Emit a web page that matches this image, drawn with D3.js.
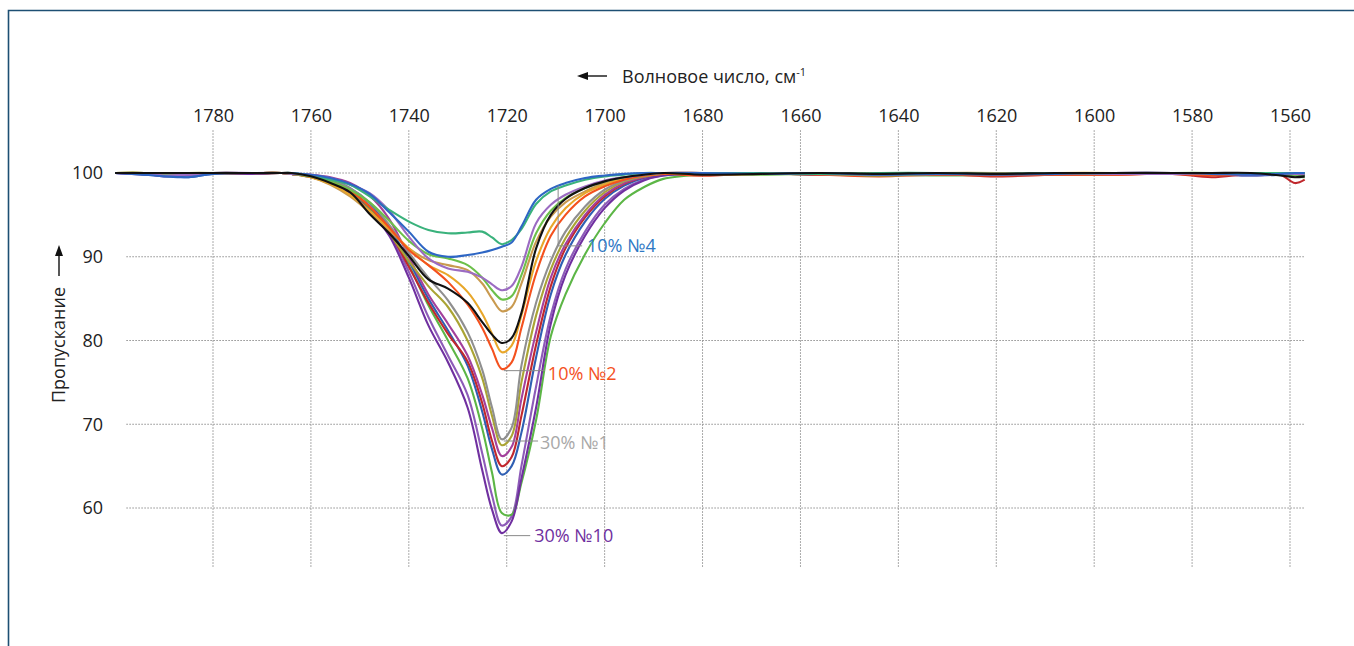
<!DOCTYPE html>
<html>
<head>
<meta charset="utf-8">
<script src="https://cdn.jsdelivr.net/npm/d3@7"></script>
<style>
  html, body { margin: 0; padding: 0; background: #fff; }
  svg { display: block; }
  text { font-family: "Open Sans", "Noto Sans", sans-serif; }
</style>
</head>
<body>
<svg id="chart" width="1354" height="646"></svg>
<script>
// ---------------- DATA ----------------
const wavenumbers = [
  1800, 1794, 1790, 1785, 1780, 1772, 1766,
  1764, 1760, 1756, 1752, 1748, 1744, 1740, 1736, 1732, 1728, 1725, 1723, 1721, 1719, 1717, 1714, 1711, 1708, 1704, 1700, 1696, 1692, 1688,
  1680, 1668, 1656, 1644, 1632, 1620, 1608, 1596, 1584, 1576, 1568, 1562, 1559, 1557
];

const xTicks = [1780, 1760, 1740, 1720, 1700, 1680, 1660, 1640, 1620, 1600, 1580, 1560];
const yTicks = [60, 70, 80, 90, 100];

// group A (30%)
const purple10 = [100, 99.9, 99.6, 99.8, 100, 99.9, 100,
  99.9, 99.5, 98.8, 97.5, 95.5, 92.5, 87.5, 81.8, 77.4, 72.0, 64.5, 59.8, 57.0, 58.4, 63.5, 72.0, 82.0, 87.8, 92.5, 95.8, 97.9, 99.1, 99.7,
  99.9, 100, 99.8, 99.9, 100, 99.8, 99.9, 100, 100, 99.9, 99.8, 99.9, 99.9, 99.8];
const purple2 = [100, 99.8, 99.7, 99.8, 99.9, 100, 100,
  99.9, 99.6, 99.0, 97.8, 95.8, 92.8, 88.2, 82.8, 78.2, 73.5, 66.5, 61.5, 57.9, 59.0, 65.0, 74.5, 83.0, 88.5, 93.0, 96.2, 98.1, 99.2, 99.7,
  99.9, 99.9, 100, 99.7, 99.9, 99.8, 100, 99.9, 100, 99.9, 99.7, 99.9, 99.8, 99.7];
const greenA = [100, 100, 99.9, 99.9, 100, 100, 100,
  99.9, 99.6, 99.0, 97.8, 95.8, 93.0, 89.0, 84.2, 80.0, 75.5, 69.5, 64.2, 59.4, 59.2, 63.0, 70.5, 80.5, 85.5, 90.3, 94.0, 96.8, 98.3, 99.3,
  99.8, 99.9, 99.9, 99.8, 99.7, 99.8, 99.8, 99.9, 99.9, 100, 99.9, 99.8, 99.6, 99.5];
const blueA = [100, 99.8, 99.7, 99.5, 99.9, 99.9, 100,
  99.9, 99.7, 99.2, 98.2, 96.4, 93.5, 89.5, 85.0, 81.2, 77.0, 71.5, 67.0, 64.0, 65.0, 69.0, 78.0, 85.5, 90.2, 94.2, 96.9, 98.5, 99.4, 99.8,
  99.9, 100, 99.8, 99.9, 99.8, 99.9, 100, 99.9, 100, 99.9, 99.7, 99.8, 99.9, 99.8];
const redA = [100, 100, 100, 99.9, 100, 99.9, 100,
  99.9, 99.6, 99.0, 97.9, 96.0, 93.0, 88.8, 84.5, 80.8, 77.5, 72.5, 68.0, 65.0, 66.1, 71.0, 79.5, 86.5, 91.0, 94.7, 97.2, 98.7, 99.5, 99.9,
  99.7, 99.9, 99.8, 99.7, 99.9, 99.6, 99.8, 99.8, 99.9, 99.5, 99.9, 99.8, 98.8, 99.2];
const magentaA = [100, 99.9, 99.8, 99.9, 100, 100, 100,
  99.9, 99.8, 99.5, 98.8, 97.3, 94.5, 90.0, 85.5, 82.0, 78.2, 73.5, 69.5, 66.2, 67.3, 73.0, 81.0, 87.5, 91.5, 95.0, 97.4, 98.8, 99.5, 99.9,
  100, 99.9, 99.9, 99.8, 100, 99.9, 99.9, 100, 99.9, 99.9, 99.8, 100, 99.9, 99.9];
const oliveA = [100, 100, 99.9, 100, 100, 99.9, 100,
  99.9, 99.6, 98.9, 97.6, 95.5, 92.8, 89.5, 86.5, 84.0, 80.0, 75.5, 71.0, 67.5, 68.6, 75.0, 83.0, 88.5, 92.2, 95.5, 97.7, 99.0, 99.6, 99.9,
  99.9, 100, 99.9, 99.8, 99.9, 99.9, 100, 99.9, 100, 99.9, 99.9, 100, 99.9, 99.9];
const grayA = [100, 100, 100, 99.9, 100, 100, 100,
  99.9, 99.7, 99.2, 98.2, 96.5, 93.8, 90.5, 87.5, 84.8, 81.0, 76.5, 72.0, 68.2, 69.6, 77.0, 84.5, 89.5, 93.0, 96.0, 98.0, 99.1, 99.7, 100,
  100, 99.9, 100, 99.9, 99.9, 100, 99.9, 100, 100, 99.9, 100, 99.9, 99.9, 99.9];

// group B (10%)
const orangeRed = [100, 100, 99.9, 100, 100, 100, 100,
  99.9, 99.6, 99.0, 97.9, 96.0, 93.5, 90.8, 89.0, 87.0, 84.3, 81.5, 79.0, 76.6, 77.4, 81.5, 88.0, 92.5, 95.0, 97.2, 98.4, 99.2, 99.7, 99.9,
  99.7, 99.9, 99.8, 99.6, 99.8, 99.7, 99.8, 99.8, 99.9, 99.7, 99.9, 100, 100, 100];
const gold = [100, 100, 100, 100, 100, 100, 100,
  99.9, 99.5, 98.7, 97.4, 95.5, 93.3, 91.0, 89.0, 87.8, 85.8, 83.2, 80.8, 78.6, 79.4, 83.0, 89.5, 93.5, 95.8, 97.6, 98.6, 99.3, 99.7, 99.9,
  99.9, 100, 99.9, 99.9, 100, 99.9, 100, 100, 99.9, 100, 99.9, 100, 100, 100];
const black = [100, 100, 100, 100, 100, 100, 100,
  100, 99.6, 98.8, 97.7, 95.1, 92.8, 90.1, 87.3, 86.2, 84.5, 82.2, 80.7, 79.7, 80.3, 83.3, 91.0, 95.0, 96.9, 98.2, 99.0, 99.5, 99.8, 100,
  99.8, 99.9, 100, 99.9, 100, 99.9, 100, 100, 100, 100, 100, 99.7, 99.5, 99.6];
const tan = [100, 100, 100, 100, 100, 100, 100,
  99.9, 99.5, 98.6, 97.2, 95.3, 93.2, 91.0, 89.6, 89.0, 88.4, 86.8, 85.0, 83.5, 84.0, 86.8, 91.8, 94.8, 96.5, 97.8, 98.8, 99.4, 99.8, 100,
  100, 99.9, 100, 99.9, 100, 100, 99.9, 100, 100, 99.9, 100, 100, 100, 100];
const greenB = [100, 100, 99.9, 100, 100, 100, 100,
  99.9, 99.6, 99.0, 98.0, 96.5, 94.3, 91.9, 90.3, 89.8, 89.0, 87.5, 86.0, 84.9, 85.3, 87.8, 92.8, 95.5, 97.0, 98.2, 99.0, 99.5, 99.8, 100,
  99.9, 99.8, 99.9, 99.7, 99.9, 99.9, 100, 99.9, 100, 100, 99.9, 99.9, 99.8, 99.8];
const purpleB = [100, 99.9, 99.7, 99.8, 100, 100, 100,
  99.9, 99.8, 99.4, 98.6, 97.6, 95.5, 92.4, 89.8, 88.6, 88.2, 87.5, 86.7, 86.0, 86.5, 88.8, 94.0, 96.2, 97.4, 98.4, 99.1, 99.5, 99.8, 100,
  100, 99.9, 99.9, 99.8, 99.9, 99.9, 100, 99.9, 99.9, 100, 99.8, 99.9, 99.9, 99.9];

// group C
const teal = [100, 100, 100, 100, 100, 100, 100,
  100, 99.7, 99.2, 98.6, 97.2, 95.6, 94.2, 93.2, 92.8, 92.9, 93.0, 92.3, 91.5, 92.0, 93.3, 96.3, 97.8, 98.5, 99.2, 99.6, 99.8, 100, 100,
  100, 100, 99.9, 100, 100, 99.9, 100, 100, 100, 100, 100, 100, 100, 100];
const blueC = [100, 99.8, 99.6, 99.5, 99.9, 100, 100,
  100, 99.8, 99.4, 98.7, 97.5, 95.3, 93.0, 90.6, 90.0, 90.2, 90.5, 90.8, 91.2, 91.7, 93.6, 96.8, 98.1, 98.8, 99.4, 99.7, 99.9, 100, 100,
  100, 99.9, 100, 99.8, 99.9, 99.8, 99.9, 100, 100, 99.9, 99.8, 99.9, 100, 100];

const seriesNames  = ["30% purple2", "30% green", "30% blue", "30% red", "30% magenta", "30% olive", "30% №1", "30% №10",
                      "10% tan", "10% gold", "10% №2", "10% green", "10% purple", "10% teal", "10% №4", "black"];
const seriesValues = [purple2, greenA, blueA, redA, magentaA, oliveA, grayA, purple10,
                      tan, gold, orangeRed, greenB, purpleB, teal, blueC, black];
const seriesColors = ["#8d5bb8", "#5cb646", "#2f5fb3", "#c0282d", "#a3409c", "#aaa434", "#8f8f8f", "#7030a0",
                      "#c99a4f", "#e8a72a", "#f4511e", "#6cc04a", "#9b6bc2", "#3ab27c", "#2e66c4", "#111111"];

// labels: text, colour, curve anchor (wavenumber, value), text position (wavenumber, value)
const labelTexts  = ["10% №4", "10% №2", "30% №1", "30% №10"];
const labelColors = ["#2e78c4", "#f4511e", "#a8a8a8", "#7030a0"];
const labelAnchorW = [1709.5, 1720.6, 1720.6, 1720.6];
const labelAnchorV = [98.5, 76.4, 68.0, 56.7];
const labelLineEndW = [1704.6, 1712.2, 1713.6, 1715.2];
const labelLineEndV = [91.3, 76.4, 68.0, 56.7];
const labelTextW = [1703.6, 1711.6, 1713.2, 1714.4];
const labelTextV = [91.3, 76.0, 67.8, 56.7];

// ---------------- CHART ----------------
const svg = d3.select("#chart");

const x = d3.scaleLinear().domain([1780, 1560]).range([213, 1290]);
const y = d3.scaleLinear().domain([100, 60]).range([173, 508]);

// frame
svg.append("path")
  .attr("d", "M8.5,646 L8.5,10.5 L1354,10.5")
  .attr("fill", "none").attr("stroke", "#1d4f73").attr("stroke-width", 1.6);

// grid
const grid = svg.append("g");
grid.selectAll("line.v").data(xTicks).join("line")
  .attr("class", "v")
  .attr("x1", d => x(d)).attr("x2", d => x(d))
  .attr("y1", y(105.1)).attr("y2", y(52.8))
  .attr("stroke", "#8f8f8f").attr("stroke-width", 1).attr("stroke-dasharray", "1.5,1.5");
grid.selectAll("line.h").data(yTicks).join("line")
  .attr("class", "h")
  .attr("x1", x(1797.7)).attr("x2", x(1557))
  .attr("y1", d => y(d)).attr("y2", d => y(d))
  .attr("stroke", "#8f8f8f").attr("stroke-width", 1).attr("stroke-dasharray", "1.5,1.5");

// axes (labels only)
const xAxis = svg.append("g").attr("transform", "translate(0,122)")
  .call(d3.axisTop(x).tickValues(xTicks).tickSize(0).tickPadding(0).tickFormat(d3.format("d")));
xAxis.select(".domain").remove();
xAxis.selectAll("text").attr("font-size", 18).attr("fill", "#222").attr("font-family", "'Open Sans', sans-serif");

const yAxis = svg.append("g").attr("transform", "translate(103,0)")
  .call(d3.axisLeft(y).tickValues(yTicks).tickSize(0).tickPadding(0).tickFormat(d3.format("d")));
yAxis.select(".domain").remove();
yAxis.selectAll("text").attr("font-size", 18).attr("fill", "#222").attr("font-family", "'Open Sans', sans-serif");

// x title with arrow
const title = svg.append("g");
title.append("line").attr("x1", 584).attr("x2", 607).attr("y1", 76).attr("y2", 76)
  .attr("stroke", "#111").attr("stroke-width", 1.4);
title.append("path").attr("d", "M577,76 L588,72 L588,80 Z").attr("fill", "#111");
const tt = title.append("text").attr("x", 622).attr("y", 82.5)
  .attr("font-size", 18).attr("fill", "#222");
tt.append("tspan").text("Волновое число, см");
tt.append("tspan").attr("font-size", 11).attr("dy", -7).text("-1");

// y title with arrow
const yt = svg.append("g").attr("transform", "translate(59,403) rotate(-90)");
yt.append("text").attr("x", 0).attr("y", 0).attr("dy", "0.35em")
  .attr("font-size", 18).attr("fill", "#222").text("Пропускание");
yt.append("line").attr("x1", 127).attr("x2", 150).attr("y1", 0).attr("y2", 0)
  .attr("stroke", "#111").attr("stroke-width", 1.4);
yt.append("path").attr("d", "M158,0 L147,-4 L147,4 Z").attr("fill", "#111");

// curves
const line = d3.line()
  .x((d, i) => x(wavenumbers[i]))
  .y(d => y(d))
  .curve(d3.curveCatmullRom.alpha(0.5));

const plot = svg.append("g");
plot.selectAll("path.s").data(seriesValues).join("path")
  .attr("class", "s")
  .attr("d", d => line(d))
  .attr("fill", "none")
  .attr("stroke", (d, i) => seriesColors[i])
  .attr("stroke-width", 2.1)
  .attr("stroke-linejoin", "round");

// labels with leader lines
const lab = svg.append("g");
labelTexts.forEach((t, i) => {
  const ax = x(labelAnchorW[i]), ay = y(labelAnchorV[i]);
  const ex = x(labelLineEndW[i]), ey = y(labelLineEndV[i]);
  const pts = (ax === ex || ay === ey) ? [[ax, ay], [ex, ey]] : [[ax, ay], [ax, ey], [ex, ey]];
  lab.append("path").attr("d", d3.line()(pts))
    .attr("fill", "none").attr("stroke", "#8a8a8a").attr("stroke-width", 1);
  lab.append("text").attr("x", x(labelTextW[i])).attr("y", y(labelTextV[i])).attr("dy", "0.35em")
    .attr("font-size", 18).attr("fill", labelColors[i]).text(t);
});
</script>
</body>
</html>
